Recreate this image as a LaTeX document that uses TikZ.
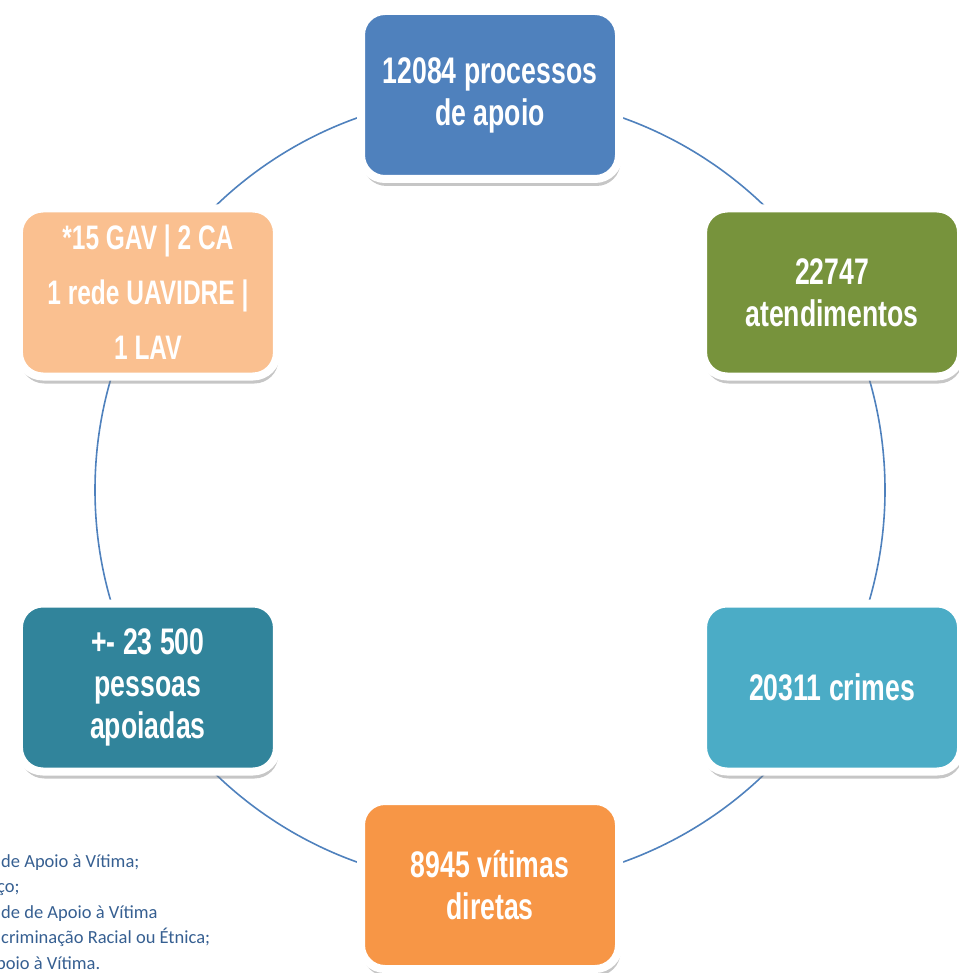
\documentclass[tikz,border=0pt]{standalone}
\usepackage{fontspec}
\usetikzlibrary{shadows}
\newfontfamily\boxfont[FakeStretch=0.72]{Liberation Sans}
\newfontfamily\notefont{Carlito}
\definecolor{ringblue}{HTML}{4F81BD}
\definecolor{notecol}{HTML}{365F91}
\definecolor{apoioblue}{HTML}{4F81BD}
\definecolor{atendgreen}{HTML}{77933C}
\definecolor{crimecyan}{HTML}{4BACC6}
\definecolor{vitorange}{HTML}{F79646}
\definecolor{pessoateal}{HTML}{31849B}
\definecolor{redepeach}{HTML}{FAC090}
\tikzset{stat/.style={draw=white,line width=8pt,rounded corners=24pt,
  minimum width=258pt,minimum height=168pt,align=center,text=white,
  font=\boxfont\bfseries\fontsize{37}{42}\selectfont,
  drop shadow={opacity=0.45,shadow xshift=1.5pt,shadow yshift=-7pt}}}
\begin{document}
\begin{tikzpicture}[x=1pt,y=1pt]
\useasboundingbox (0,0) rectangle (958,-973);
\coordinate (hub) at (490,-490);
%ring behind the boxes
\draw[ringblue,line width=1.6pt] (hub) circle (395pt);
%the six boxes
\node[stat,fill=apoioblue] (apoio) at ([shift={(90:395)}]hub) {12084 processos\\de apoio};
\node[stat,fill=atendgreen] (atend) at ([shift={(30:395)}]hub) {22747\\atendimentos};
\node[stat,fill=crimecyan] (crimes) at ([shift={(-30:395)}]hub) {20311 crimes};
\node[stat,fill=vitorange] (vitimas) at ([shift={(-90:395)}]hub) {8945 vítimas\\diretas};
\node[stat,fill=pessoateal] (pessoas) at ([shift={(-150:395)}]hub) {+- 23 500\\pessoas\\apoiadas};
\node[stat,fill=redepeach,font=\boxfont\bfseries\fontsize{34}{55}\selectfont] (rede) at ([shift={(150:395)}]hub) {*15 GAV | 2 CA\\1 rede UAVIDRE |\\1 LAV};
%legend, cut at the page edge
\node[anchor=north west,align=left,inner sep=0pt,text=notecol,
  font=\notefont\fontsize{18.5}{25.5}\selectfont] (legenda) at (1,-854)
  {de Apoio à Vítima;\\\hspace*{-4pt}ço;\\de de Apoio à Vítima\\criminação Racial ou Étnica;\\\hspace*{-5pt}poio à Vítima.};
\end{tikzpicture}
\end{document}
